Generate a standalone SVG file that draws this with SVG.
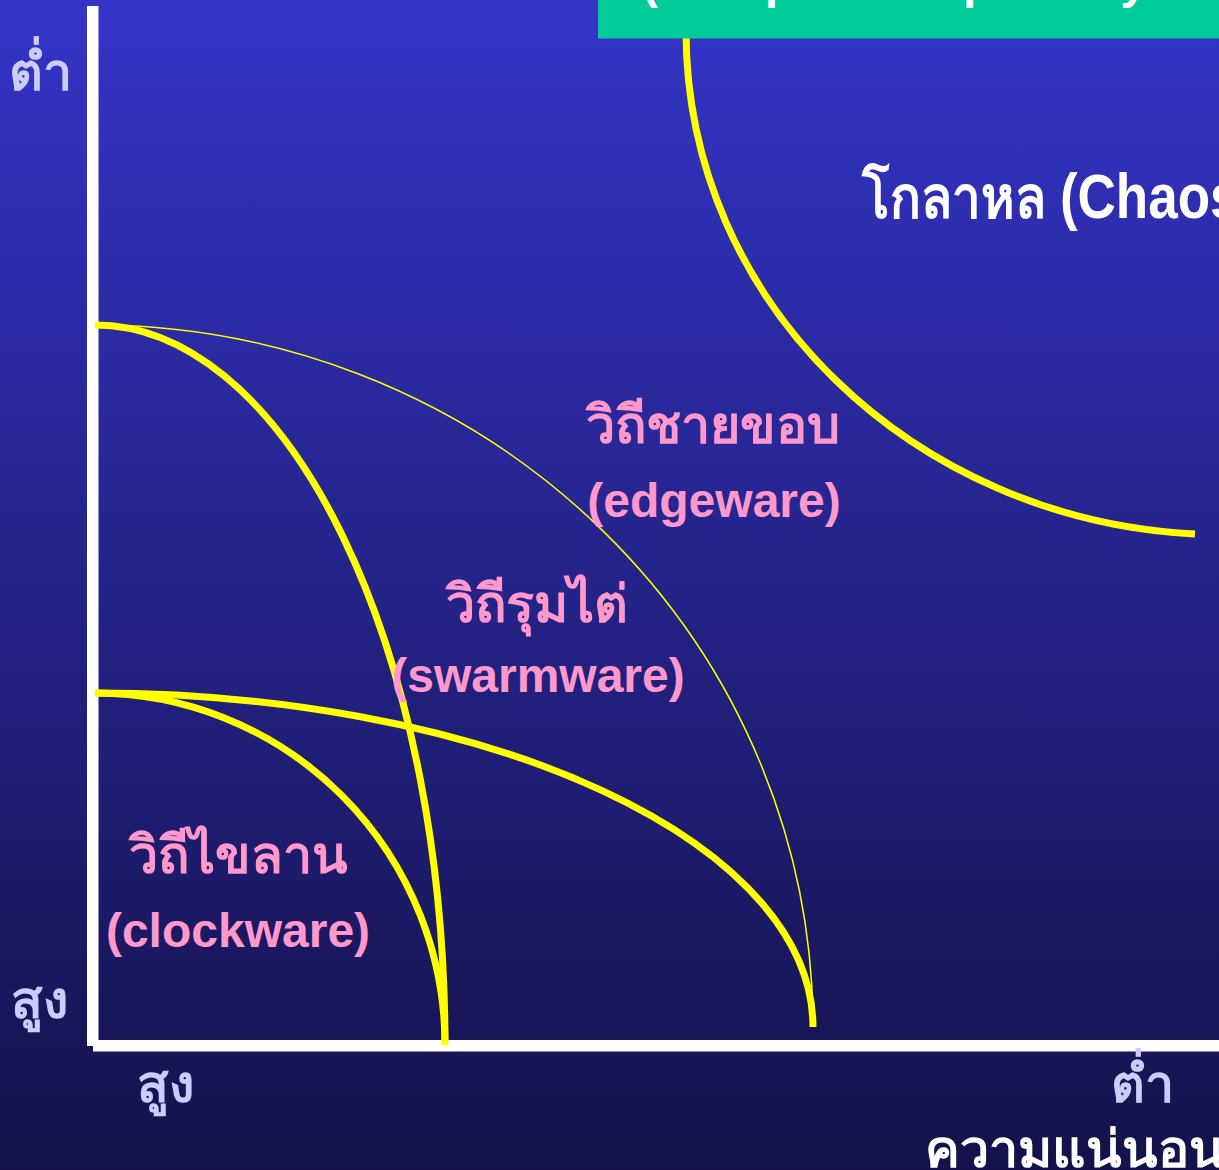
<svg xmlns="http://www.w3.org/2000/svg" width="1219" height="1170" viewBox="0 0 1219 1170">
<defs>
<linearGradient id="bg" x1="0" y1="0" x2="0" y2="1">
<stop offset="0" stop-color="#3434C8"/>
<stop offset="1" stop-color="#141249"/>
</linearGradient>
<style>
.thick{fill:none;stroke:#FFFF00;stroke-width:7}
.thin{fill:none;stroke:#FFFF00;stroke-width:1.5}
.lbl{font-family:'Liberation Sans','Noto Sans',sans-serif;font-weight:bold;font-size:48px;fill:#FF99CC;text-anchor:middle}
.th{font-size:52px}
.ax{font-family:'Liberation Sans','Noto Sans',sans-serif;font-weight:bold;font-size:52px;fill:#CCCCFF}
.wt{font-family:'Liberation Sans','Noto Sans',sans-serif;font-weight:bold;font-size:48px;fill:#FFFFFF}
</style>
</defs>
<rect x="0" y="0" width="1219" height="1170" fill="url(#bg)"/>
<g id="axes">
<rect x="87" y="6" width="11.5" height="1040" fill="#FFFFFF"/>
<rect x="93" y="1040" width="1126" height="11.5" fill="#FFFFFF"/>
</g>
<g id="connectors">
<path class="thick" d="M686,30 C686,305 915,520 1195,534"/>
<path class="thin" d="M95,325 A718,702 0 0 1 813,1027"/>
<path class="thick" d="M95,325 A350,720 0 0 1 445,1045"/>
<path class="thick" d="M95,693 A350,352 0 0 1 445,1045"/>
<path class="thick" d="M95,693 A718,334 0 0 1 813,1027"/>
</g>
<g id="title">
<rect x="598" y="0" width="621" height="38.5" fill="#00CC99"/>
<text class="wt" x="642" y="-2">(Complex Adaptive System)</text>
</g>
<g id="chaos"><text class="wt" transform="translate(862,218) scale(1,1.17)"><tspan font-size="51">โกลาหล </tspan><tspan font-size="53">(Chaos)</tspan></text></g>
<g id="edgeware">
<text class="lbl th" x="713" y="443">วิถีชายขอบ</text>
<text class="lbl" x="714" y="517">(edgeware)</text>
</g>
<g id="swarmware">
<text class="lbl th" x="537" y="622">วิถีรุมไต่</text>
<text class="lbl" x="538" y="692">(swarmware)</text>
</g>
<g id="clockware">
<text class="lbl th" x="238" y="873">วิถีไขลาน</text>
<text class="lbl" x="238" y="947">(clockware)</text>
</g>
<g id="axis-labels">
<text class="ax" x="9" y="90">ต่ำ</text>
<text class="ax" x="11" y="1018">สูง</text>
<text class="ax" x="137" y="1102">สูง</text>
<text class="ax" x="1111" y="1102">ต่ำ</text>
<text class="wt" x="925" y="1167" style="font-size:52px">ความแน่นอน</text>
</g>
</svg>
